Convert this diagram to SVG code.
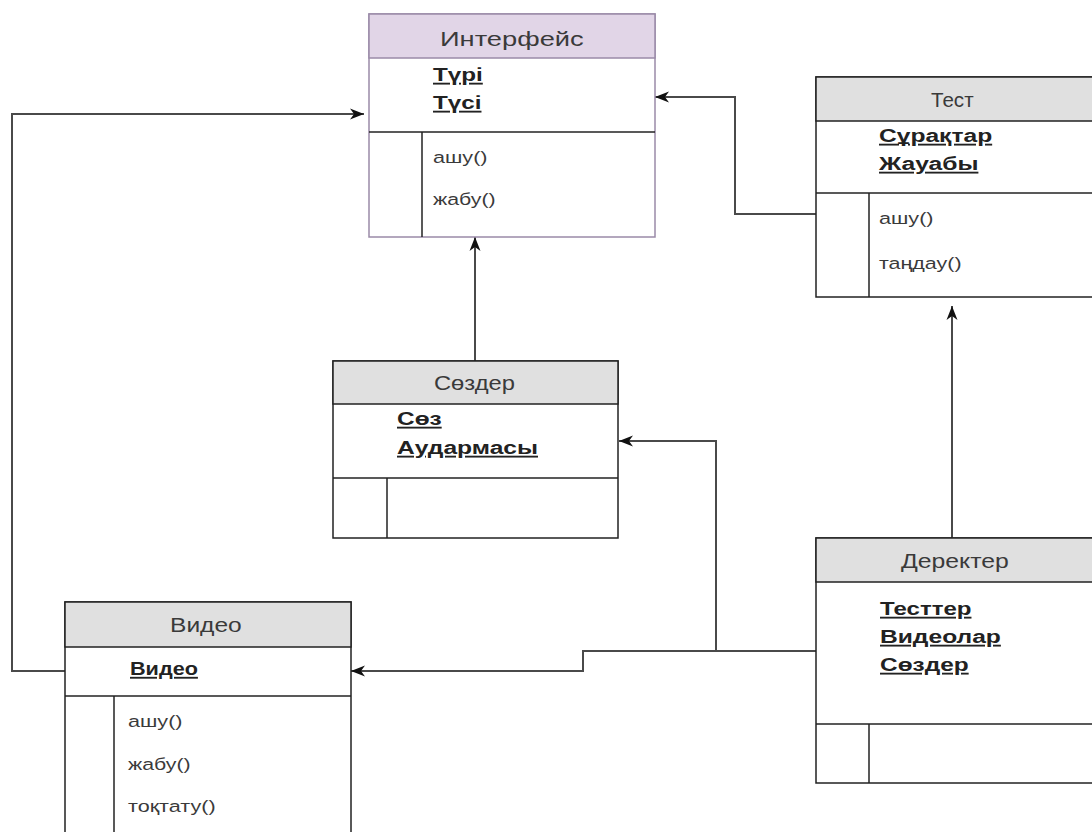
<svg xmlns="http://www.w3.org/2000/svg" width="1092" height="832" viewBox="0 0 1092 832">
  <defs>
    <marker id="arrow" markerWidth="15" markerHeight="12" refX="14" refY="6" orient="auto" markerUnits="userSpaceOnUse">
      <path d="M0,0.5 L14,6 L0,11.5 L4,6 Z" fill="#111"/>
    </marker>
    <style>
      .box { fill: #ffffff; stroke: #222; stroke-width: 1.5; }
      .head { fill: #e0e0e0; stroke: #222; stroke-width: 1.5; }
      .headp { fill: #e1d5e7; stroke: #9a8aa8; stroke-width: 1.5; }
      .boxp { fill: #ffffff; stroke: #9a8aa8; stroke-width: 1.5; }
      .sep { stroke: #222; stroke-width: 1.5; fill: none; }
      .title { font-family: "Liberation Sans", Arial, sans-serif; font-size: 21px; fill: #3a3a3a; }
      .attr { font-family: "Liberation Sans", Arial, sans-serif; font-size: 18.5px; font-weight: bold; fill: #222; text-decoration: underline; }
      .op { font-family: "Liberation Sans", Arial, sans-serif; font-size: 16.5px; fill: #3a3a3a; }
      .conn { fill: none; stroke: #4a4a4a; stroke-width: 2; }
    </style>
  </defs>

  <rect width="1092" height="832" fill="#ffffff"/>

  <!-- connectors -->
  <g id="connectors">
    <path class="conn" d="M65,671 H12 V114 H364" marker-end="url(#arrow)"/>
    <path class="conn" d="M816,214 H735 V97 H655" marker-end="url(#arrow)"/>
    <path class="conn" d="M475,361 V237" marker-end="url(#arrow)"/>
    <path class="conn" d="M952,538 V306" marker-end="url(#arrow)"/>
    <path class="conn" d="M816,651 H716 V441 H619" marker-end="url(#arrow)"/>
    <path class="conn" d="M716,651 H583 V671 H351" marker-end="url(#arrow)"/>
  </g>

  <!-- Интерфейс -->
  <g id="interface">
    <rect class="boxp" x="369" y="14" width="286" height="223"/>
    <rect class="headp" x="369" y="14" width="286" height="44"/>
    <line class="sep" x1="369" y1="132" x2="655" y2="132"/>
    <line class="sep" x1="422" y1="132" x2="422" y2="237"/>
    <text class="title" transform="translate(440,46) scale(1.3,1)">Интерфейс</text>
    <text class="attr" transform="translate(433,81) scale(1.31,1)">Түрі</text>
    <text class="attr" transform="translate(433,109) scale(1.31,1)">Түсі</text>
    <text class="op" transform="translate(433,163) scale(1.31,1)">ашу()</text>
    <text class="op" transform="translate(433,205) scale(1.29,1)">жабу()</text>
  </g>

  <!-- Тест -->
  <g id="test">
    <rect class="box" x="816" y="77" width="280" height="220"/>
    <rect class="head" x="816" y="77" width="280" height="44"/>
    <line class="sep" x1="816" y1="193" x2="1096" y2="193"/>
    <line class="sep" x1="869" y1="193" x2="869" y2="297"/>
    <text class="title" transform="translate(931,107) scale(0.98,1)">Тест</text>
    <text class="attr" transform="translate(879,142) scale(1.33,1)">Сұрақтар</text>
    <text class="attr" transform="translate(879,170) scale(1.33,1)">Жауабы</text>
    <text class="op" transform="translate(879,224) scale(1.31,1)">ашу()</text>
    <text class="op" transform="translate(879,269) scale(1.3,1)">таңдау()</text>
  </g>

  <!-- Сөздер -->
  <g id="words">
    <rect class="box" x="333" y="361" width="285" height="177"/>
    <rect class="head" x="333" y="361" width="285" height="43"/>
    <line class="sep" x1="333" y1="478" x2="618" y2="478"/>
    <line class="sep" x1="387" y1="478" x2="387" y2="538"/>
    <text class="title" transform="translate(434,390) scale(1.13,1)">Сөздер</text>
    <text class="attr" transform="translate(397,425) scale(1.32,1)">Сөз</text>
    <text class="attr" transform="translate(397,454) scale(1.33,1)">Аудармасы</text>
  </g>

  <!-- Видео -->
  <g id="video">
    <rect class="box" x="65" y="602" width="286" height="240"/>
    <rect class="head" x="65" y="602" width="286" height="45"/>
    <line class="sep" x1="65" y1="696" x2="351" y2="696"/>
    <line class="sep" x1="114" y1="696" x2="114" y2="842"/>
    <text class="title" transform="translate(170,632) scale(1.17,1)">Видео</text>
    <text class="attr" transform="translate(130,675) scale(1.17,1)">Видео</text>
    <text class="op" transform="translate(128,727) scale(1.31,1)">ашу()</text>
    <text class="op" transform="translate(128,770) scale(1.29,1)">жабу()</text>
    <text class="op" transform="translate(128,812) scale(1.31,1)">тоқтату()</text>
  </g>

  <!-- Деректер -->
  <g id="data">
    <rect class="box" x="816" y="538" width="280" height="245"/>
    <rect class="head" x="816" y="538" width="280" height="44"/>
    <line class="sep" x1="816" y1="724" x2="1096" y2="724"/>
    <line class="sep" x1="869" y1="724" x2="869" y2="783"/>
    <text class="title" transform="translate(901,568) scale(1.18,1)">Деректер</text>
    <text class="attr" transform="translate(880,615) scale(1.3,1)">Тесттер</text>
    <text class="attr" transform="translate(880,643) scale(1.33,1)">Видеолар</text>
    <text class="attr" transform="translate(880,671) scale(1.32,1)">Сөздер</text>
  </g>
</svg>
